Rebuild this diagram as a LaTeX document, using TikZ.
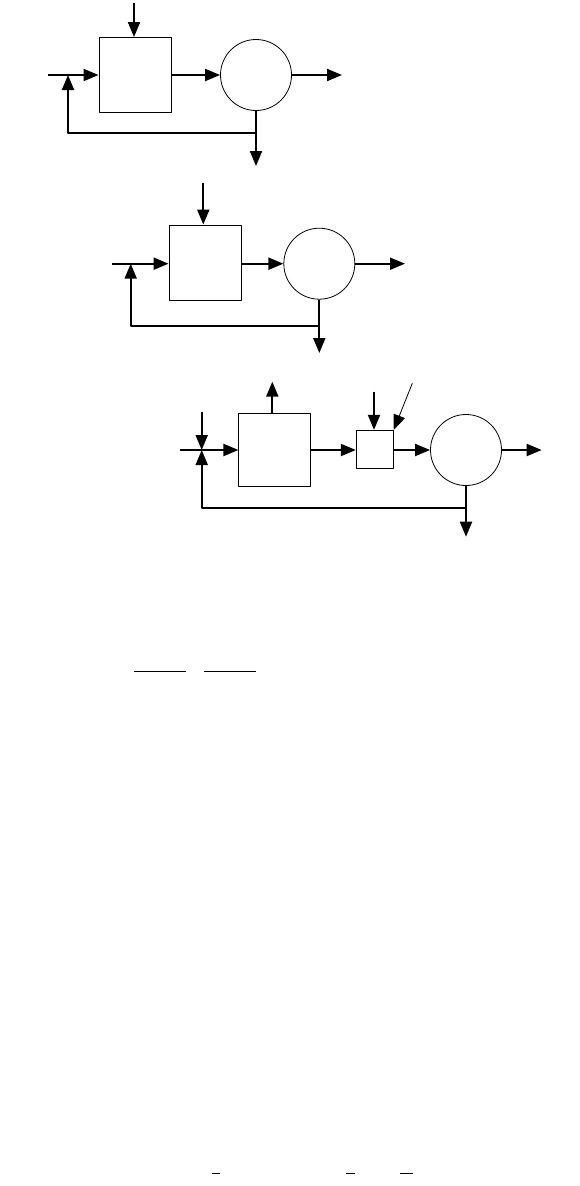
\documentclass[tikz,border=0pt]{standalone}
\usetikzlibrary{arrows.meta}
\begin{document}
\begin{tikzpicture}[x=1pt,y=-1pt,>={Triangle[length=15pt,width=12pt]},line join=round,
    flow/.style={->,line width=2pt},
    blk/.style={draw,line width=0.9pt,minimum width=72pt,minimum height=75pt,inner sep=0pt},
    sblk/.style={draw,line width=0.9pt,minimum width=37pt,minimum height=38pt,inner sep=0pt},
    tank/.style={draw,circle,line width=0.8pt,minimum size=71pt,inner sep=0pt}]
        \useasboundingbox (0,0) rectangle (580,1186);
        % first loop
        \node[blk] (b1) at (135,75) {};
        \node[tank] (c1) at (256,75) {};
        \coordinate (in1) at (48,75);
        \coordinate (j1) at (68,75);
        \coordinate (top1) at (134,3);
        \coordinate (out1) at (342,75);
        \coordinate (br1) at (256,133);
        \coordinate (dn1) at (256,166);
        \draw[flow] (in1) -- (b1.west);
        \draw[flow] (top1) -- (top1 |- b1.north);
        \draw[flow] (b1) -- (c1);
        \draw[flow] (c1) -- (out1);
        \draw[flow] (c1.south) -- (br1) -| (j1);
        \draw[flow] (br1) -- (dn1);
        % second loop
        \node[blk] (b2) at (205,262.5) {};
        \node[tank] (c2) at (319.3,263.7) {};
        \coordinate (in2) at (112,263.7);
        \coordinate (j2) at (130.7,263.7);
        \coordinate (top2) at (203.3,182.7);
        \coordinate (out2) at (405,263.7);
        \coordinate (br2) at (319.3,325.7);
        \coordinate (dn2) at (319.3,353);
        \draw[flow] (in2) -- (in2 -| b2.west);
        \draw[flow] (top2) -- (top2 |- b2.north);
        \draw[flow] (in2 -| b2.east) -- (c2);
        \draw[flow] (c2) -- (out2);
        \draw[flow] (c2.south) -- (br2) -| (j2);
        \draw[flow] (br2) -- (dn2);
        % third loop
        \node[blk,minimum height=73pt] (b3) at (274.9,449.8) {};
        \node[sblk] (s3) at (374.8,449.3) {};
        \node[tank] (c3) at (466,450) {};
        \coordinate (in3) at (180,450);
        \coordinate (j3) at (201.7,450);
        \coordinate (top3) at (201.7,411.7);
        \coordinate (up3) at (272.3,381.7);
        \coordinate (sin3) at (374,391.7);
        \coordinate (tag3) at (412.3,383.3);
        \coordinate (out3) at (541.7,450);
        \coordinate (br3) at (466,508.3);
        \coordinate (dn3) at (466,536.7);
        \draw[flow] (in3) -- (in3 -| b3.west);
        \draw[flow] (top3) -- (j3);
        \draw[flow] (up3 |- b3.north) -- (up3);
        \draw[flow] (in3 -| b3.east) -- (in3 -| s3.west);
        \draw[flow] (sin3) -- (sin3 |- s3.north);
        \draw[->,line width=0.8pt] (tag3) -- (s3.north east);
        \draw[flow] (in3 -| s3.east) -- (c3);
        \draw[flow] (c3) -- (out3);
        \draw[flow] (c3.south) -- (br3) -| (j3);
        \draw[flow] (br3) -- (dn3);
        % bars
        \draw[line width=1pt] (134,671.3) -- (185.7,671.3);
        \draw[line width=1pt] (204,671.3) -- (255.7,671.3);
        \draw[line width=1pt] (211.7,1173.3) -- (220,1173.3);
        \draw[line width=1pt] (346,1173.3) -- (355,1173.3);
        \draw[line width=1pt] (400,1173.3) -- (413.3,1173.3);
\end{tikzpicture}
\end{document}
